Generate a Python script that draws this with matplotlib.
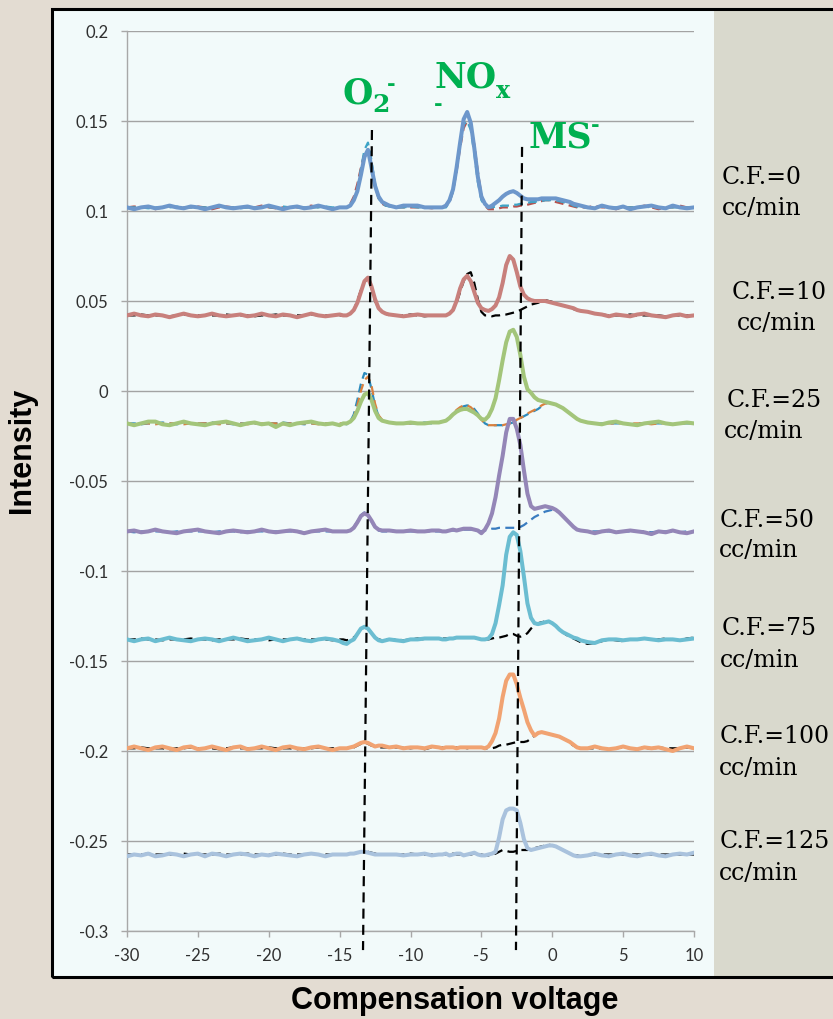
import numpy as np
import matplotlib.pyplot as plt
from matplotlib.patches import Rectangle

# compensation voltage sweep (finer steps around the peaks)
cv = np.r_[np.arange(-30, -14.9, 0.5), np.arange(-14.75, -11.7, 0.25),
           np.arange(-11.5, -7.9, 0.5), np.arange(-7.75, 2.01, 0.25),
           np.arange(2.5, 10.01, 0.5)]

# intensities, x 1e-3
cf0_solid = [102, 101, 102, 102.5, 101.5, 102, 103, 102, 101.5, 102.5, 102, 101, 102, 103, 102, 101.5, 102, 102.5, 101.5, 102, 103, 102, 101, 102, 102.5, 101.5, 102, 103, 102, 101, 102,
             102, 102, 103, 106, 111, 120, 130, 134, 124, 114, 108, 105, 104,
             103, 102, 103, 103, 103, 102, 102, 102,
             102, 103, 106, 112, 124, 138, 151, 155, 149, 135, 119, 108, 104, 102, 103, 104.5, 106, 108, 109.5, 110.5, 111, 110, 108.5, 107, 106.5, 106.5, 106.5, 106.5, 107, 107, 107, 107, 107, 106.5, 106, 105.5, 105, 104, 103.5, 103,
             102, 101.5, 103, 102, 101.5, 102.5, 101, 102, 102.5, 103, 102, 101.5, 103, 102, 101.5, 102]
cf0_red = [102, 102.5, 102, 102, 101, 102, 102.5, 102, 102, 102, 102.5, 102, 101, 102, 102.5, 102, 102, 102, 102, 103, 102, 101.5, 102, 102, 102, 102, 103, 102, 102, 101.5, 102,
           102, 102, 104, 108, 115, 124, 132, 134, 126, 114, 107, 104, 103,
           103, 102, 102, 102, 102, 102, 101.5, 102,
           102, 103, 105, 111, 122, 135, 146, 150, 147, 137, 122, 109, 103, 101, 101, 101, 101.5, 102, 102, 102, 102.5, 102.5, 103, 103, 103.5, 104, 104.5, 105, 105.5, 106, 106, 105.5, 105, 104.5, 104, 103.5, 103, 102.5, 102, 102,
           102, 103, 102, 102, 101, 102, 102, 102, 103, 102, 101, 102, 102, 103, 102, 102]
cf0_teal = [102, 102, 102, 101.5, 102, 102, 102, 102.5, 102, 102, 102, 102, 102, 102.5, 102, 102, 101.5, 102, 102, 102, 102, 102, 102.5, 102, 102, 102, 102, 102, 102.5, 102, 102,
            102, 102, 103, 106, 112, 123, 134, 138, 128, 115, 107, 104, 103,
            102.5, 102, 102, 102.5, 102, 102, 102, 102,
            102, 102, 105, 111, 123, 137, 148, 150, 145, 132, 116, 106, 103, 102, 102, 102.5, 102.5, 103, 103, 103, 103.5, 103.5, 104, 104, 104.5, 105, 105, 105.5, 105.5, 106, 106, 106, 106, 105.5, 105, 104.5, 104, 103, 102.5, 102,
            102, 102, 102.5, 102, 102, 102, 102, 102, 102.5, 102, 102, 102, 102, 102, 102, 102]

cf10_solid = [42, 43, 42, 41.5, 42.5, 42, 41, 42, 43, 42, 41.5, 42, 43, 42, 41.5, 42, 42.5, 41.5, 42, 43, 42, 41.5, 42.5, 42, 41, 42, 43, 42, 41.5, 42, 42.5,
              42, 42, 43, 45, 49, 55, 61, 63, 58, 51, 46, 44, 43,
              42.5, 42, 41.5, 42, 42.5, 42, 42, 42,
              42, 42, 43, 45, 50, 57, 62, 64, 61, 55, 49, 46, 45, 44.5, 45.5, 47.5, 52, 60, 70, 75, 73, 66, 58, 53.5, 51.5, 50.5, 50, 50, 50, 50, 49.5, 49, 48.5, 48, 47.5, 47, 46.5, 46, 45, 44.5,
              44, 43, 42.5, 41.5, 42.5, 42, 41.5, 42.5, 43, 42, 41.5, 41, 42, 42.5, 41.5, 42]
cf10_ref = [42, 42, 42.5, 42, 42, 42, 41.5, 42, 42.5, 42, 42, 42, 42, 42, 42.5, 42, 42, 42, 41.5, 42, 42, 42.5, 42, 42, 42, 42, 42.5, 42, 42, 42, 42,
            42, 42, 43, 45, 50, 56, 61, 62, 57, 50, 46, 44, 43,
            42, 42, 42, 42.5, 42, 41.5, 42, 42,
            42, 42, 43, 45, 49, 55, 61, 65, 66, 60, 51, 44, 42, 42, 41.5, 42, 42, 42.5, 42.5, 43, 43.5, 44, 45, 46, 47, 48, 48.5, 49, 50, 50.5, 50, 49.5, 48.5, 48, 47.5, 47, 46, 45.5, 45, 44.5,
            44, 43, 42.5, 42, 42, 42, 42.5, 42, 42, 42, 42, 41.5, 42, 42, 42, 42]

cf25_solid = [-18, -19, -18, -17, -17, -18.5, -19, -18, -17, -18, -18.5, -19, -18, -17.5, -17, -18, -19, -18, -17.5, -18.5, -18, -20, -18, -19, -18, -17.5, -17, -18, -18.5, -18, -19,
              -18, -18, -17, -15, -11, -6, -2, -1, -5, -11, -15, -16.5, -17,
              -17.5, -18, -18, -17.5, -18, -18, -17.5, -17.5,
              -17, -16.5, -15, -13, -11.5, -10.5, -10, -10, -11, -12, -13.5, -15.5, -16, -14, -10, -4, 6, 17, 27, 33, 34, 30, 20, 8, 1, -1, -3.5, -5, -5.5, -6, -6.5, -7, -7.5, -8.5, -9.5, -11, -12.5, -14, -15.5, -16.5,
              -17.5, -18, -18.5, -17.5, -17, -18, -18.5, -19, -18, -17.5, -17, -18, -18.5, -18, -17.5, -18]
cf25_teal = [-18, -18, -18.5, -18, -18, -17.5, -18, -18.5, -18, -18, -18, -18, -17.5, -18, -18, -18.5, -18, -18, -18, -18.5, -18, -18, -17.5, -18, -18, -18.5, -18, -18, -18, -18, -18.5,
             -18, -18.5, -17, -13, -5, 4, 10, 9, 1, -8, -14, -16.5, -17,
             -17.5, -18, -18, -18, -18, -17.5, -18, -17.5,
             -17, -16.5, -15, -13, -11, -9.5, -8.5, -8, -8.5, -10, -12.5, -15.5, -18, -19, -19, -19, -19, -19, -18.5, -18, -17.5, -16.5, -15, -14, -13, -12, -11, -10, -8.5, -7, -6.5, -7, -7.5, -8.5, -9.5, -11, -12.5, -14, -15.5, -16.5,
             -17.5, -18, -18, -18, -18, -18, -18.5, -18, -18, -18, -18, -18, -18.5, -18, -18, -18]
cf25_orange = [-18, -18.5, -18, -18, -18.5, -18, -18, -18, -18.5, -18, -18, -18, -18, -18.5, -18, -18, -18, -18.5, -18, -18, -18, -18, -18.5, -18, -18, -18, -18, -18.5, -18, -18, -18,
               -18, -18, -17.5, -14.5, -8, 0, 6, 8, 3, -7, -13.5, -16, -17,
               -17.5, -18, -18, -18, -18, -18, -17.5, -17.5,
               -17, -16.5, -15, -12.5, -10.5, -9, -8, -8, -9, -11, -13.5, -16, -18, -19, -19, -19, -19, -19, -18.5, -18, -17, -16, -15, -14, -12.5, -11.5, -10.5, -9.5, -8, -7, -6.5, -7, -7.5, -8.5, -9.5, -11, -12.5, -14, -15.5, -16.5,
               -17.5, -18, -18, -18, -18, -18, -18, -18, -18, -18.5, -18, -18, -18, -18, -18, -18]

cf50_solid = [-78, -77.5, -78.5, -78, -77, -78, -78.5, -79, -78, -77.5, -77, -78, -78.5, -79, -78, -77.5, -78, -78.5, -78, -77, -78, -78.5, -78, -77.5, -78, -79, -78, -77.5, -77, -78, -78,
              -78, -78, -77.5, -76, -73, -69.5, -68, -69, -72, -75.5, -77, -77.5, -77.5,
              -77.5, -78, -78, -77.5, -78, -78, -77.5, -77.5,
              -78, -78, -77.5, -77, -77.5, -77, -76.5, -76.5, -76.5, -77, -77.5, -79, -77, -73.5, -68, -59, -47, -36, -23, -15.5, -15.5, -21, -30, -44, -57, -64, -65.5, -65, -64.5, -64, -64.5, -65, -66, -67.5, -69.5, -71.5, -73.5, -75.5, -77, -77.5,
              -78, -79, -78, -77.5, -78.5, -78, -77.5, -78, -78.5, -79.5, -78, -78.5, -77.5, -78.5, -79, -78]
cf50_ref = [-78, -78.5, -78, -78, -78, -78, -78.5, -78, -78, -78, -78, -78, -78.5, -78, -78, -78, -78.5, -78, -78, -78, -78, -78, -78, -78, -78, -78.5, -78, -78, -78, -78, -78,
            -78, -78, -77.5, -75.5, -72.5, -69, -67.5, -69, -72.5, -76, -77.5, -78, -78,
            -78, -78, -78, -78, -78, -78, -78, -78,
            -78, -78, -77.5, -77.5, -77.5, -77, -77, -77, -77, -77, -77.5, -78, -77.5, -77, -76.5, -76.5, -76, -76, -76, -76, -76, -76, -75.5, -74.5, -73, -71.5, -70, -69, -68, -67, -66.5, -66, -66.5, -67.5, -69.5, -71.5, -73.5, -75.5, -77, -77.5,
            -78, -78, -78, -78, -78.5, -78, -78, -78, -78, -78.5, -78, -78, -78, -78.5, -78, -78]

cf75_solid = [-138, -139, -138, -137.5, -139, -138, -137, -138, -138.5, -139, -138, -137.5, -138, -139, -138, -137, -138, -139, -138.5, -138, -137, -138, -139, -138, -137.5, -138.5, -139, -138, -137.5, -138, -139,
              -140, -140.5, -139, -138, -135, -132, -131, -132, -134.5, -137, -138.5, -139, -138.5,
              -138, -138.5, -139, -138, -138, -137.5, -137.5, -137.5,
              -138, -138, -137.5, -137.5, -137, -137, -137, -137, -137, -137, -137.5, -138, -138, -137.5, -135, -129, -119, -108, -91, -81, -78.5, -80, -89, -103, -118, -126, -129, -129.5, -129, -128.5, -128, -129, -130.5, -132.5, -134, -135, -136, -137, -137.5, -138.5,
              -139.5, -140, -138.5, -138, -138, -138.5, -138, -138, -137.5, -138, -138.5, -138, -138, -138.5, -138, -137.5]
cf75_ref = [-138, -138, -137.5, -138, -138, -138.5, -138, -138, -138, -137.5, -138, -138, -138.5, -138, -138, -138, -137.5, -138, -138, -138, -138.5, -138, -138, -138, -137.5, -138, -138, -138, -138, -138.5, -138,
            -138, -138.5, -138, -137, -135, -132.5, -131.5, -132, -134.5, -137, -138, -138.5, -138,
            -138, -138, -138.5, -138, -137.5, -138, -137.5, -137.5,
            -137.5, -137.5, -137.5, -137.5, -137, -137, -137, -137, -137, -137, -137.5, -138, -138, -138, -137.5, -137, -137, -136.5, -136, -135, -135, -136, -136.5, -136, -134.5, -132, -130, -129, -128.5, -128, -128, -129, -130.5, -132.5, -134, -135.5, -136.5, -137.5, -138.5, -139.5,
            -140.5, -140, -139, -138, -138.5, -139, -138, -138, -137.5, -138, -138, -137.5, -138, -138.5, -137.5, -137]

cf100_solid = [-198.5, -197.5, -198.5, -199.5, -198, -197.5, -198.5, -199.5, -198, -197.5, -199, -198.5, -197.5, -198.5, -199.5, -198, -197.5, -199, -198.5, -197.5, -198.5, -199.5, -198, -197.5, -198.5, -199, -198, -197.5, -198.5, -199.5, -198.5,
               -198.5, -198.5, -198, -197.5, -196.5, -195.5, -195, -195.5, -196.5, -197.5, -197, -197, -197.5,
               -198, -197.5, -198.5, -198, -198, -198.5, -197.5, -198,
               -198.5, -198, -198, -198, -198.5, -198, -198, -198, -198, -198, -198, -198, -198.5, -197.5, -194.5, -190, -182, -170, -161, -157.5, -157.5, -163, -170.5, -177, -184, -188.5, -191.5, -190, -189.5, -190, -190.5, -191, -191.5, -192, -193, -194, -195, -196.5, -198, -198.5,
               -198.5, -197.5, -198.5, -199, -198.5, -197.5, -198.5, -199, -198, -198.5, -198, -199, -200, -198.5, -197.5, -198.5]
cf100_ref = [-198.5, -198.5, -198, -198.5, -198.5, -198.5, -199, -198.5, -198.5, -198, -198.5, -198.5, -198.5, -199, -198.5, -198, -198.5, -198.5, -198.5, -198.5, -198, -198.5, -198.5, -198.5, -199, -198.5, -198.5, -198, -198.5, -198.5, -198.5,
             -198.5, -198.5, -198.5, -198, -197, -196, -195.5, -196, -197, -197.5, -198, -198, -198,
             -198, -198, -198, -198.5, -198, -199, -198, -198,
             -198, -198.5, -198, -198, -198, -198, -198, -198.5, -198, -198, -198, -198, -198.5, -198.5, -198.5, -198, -197, -196.5, -196.5, -196, -195.5, -195, -195, -195, -194.5, -193, -191.5, -190, -189.5, -190, -190.5, -191, -191.5, -192, -193, -194, -195.5, -197, -198, -198.5,
             -198.5, -198.5, -198.5, -199, -198.5, -198, -198.5, -198.5, -198, -199, -198, -198.5, -198.5, -198.5, -198, -198.5]

cf125_solid = [-258.5, -257.5, -258, -257, -258.5, -258, -257, -257.5, -258.5, -257.5, -257, -258.5, -257, -257.5, -258.5, -257.5, -257, -257.5, -258.5, -257.5, -258, -257, -257.5, -258, -258.5, -257.5, -257, -257.5, -258.5, -257.5, -257.5,
               -257.5, -257.5, -257, -257, -256.5, -256, -256, -256.5, -257, -257.5, -257.5, -257.5, -257.5,
               -257.5, -257.5, -258, -257.5, -257.5, -257, -258, -257.5,
               -257.5, -257, -258, -257.5, -257, -257, -258, -257.5, -257, -256.5, -257.5, -258, -258, -257.5, -257, -256, -248, -238, -233, -232, -232, -233, -240, -249, -254, -255, -254.5, -254, -253.5, -253, -252.5, -252.5, -253, -254, -255, -256, -257, -258, -258.5, -258.5,
               -258, -257, -258, -258.5, -257.5, -257, -258, -258.5, -257.5, -257, -258, -258.5, -257.5, -257, -257.5, -256.5]
cf125_ref = [-257.5, -257.5, -257.5, -257, -257.5, -257.5, -257.5, -257.5, -257, -257.5, -257.5, -257.5, -257.5, -257, -257.5, -257.5, -257.5, -257, -257.5, -257.5, -257.5, -257.5, -257, -257.5, -257.5, -257.5, -257, -257.5, -257.5, -257.5, -257.5,
             -257.5, -257.5, -257, -257, -256.5, -256, -255.5, -256, -256.5, -257, -257.5, -257.5, -257.5,
             -257.5, -257.5, -257.5, -257, -257.5, -257.5, -257.5, -257.5,
             -257.5, -257.5, -257.5, -257, -257.5, -257.5, -257.5, -257.5, -257.5, -257, -257.5, -257.5, -258, -258, -257.5, -257, -256, -255, -255.5, -256, -256, -255.5, -255, -255, -255, -254.5, -254, -253.5, -253, -252.5, -252, -252.5, -253, -254, -255, -256, -257, -257.5, -258, -258.5,
             -258, -257.5, -257.5, -257.5, -257.5, -257.5, -257.5, -257.5, -257.5, -257.5, -257.5, -257.5, -257.5, -257.5, -257.5, -257.5]

flow_labels = ['C.F.=0', 'C.F.=10', 'C.F.=25', 'C.F.=50', 'C.F.=75', 'C.F.=100', 'C.F.=125']
ytick_vals = [0.2, 0.15, 0.1, 0.05, 0, -0.05, -0.1, -0.15, -0.2, -0.25, -0.3]
ytick_labels = ['0.2', '0.15', '0.1', '0.05', '0', '-0.05', '-0.1', '-0.15', '-0.2', '-0.25', '-0.3']
xtick_vals = [-30, -25, -20, -15, -10, -5, 0, 5, 10]

# peak guide lines (top, bottom) in data units
o2_guide = ([-12.72, -13.35], [0.145, -0.3106])
ms_guide = ([-2.13, -2.56], [0.1356, -0.3106])

groups = [
    (cf0_solid, '#6d97cb', [(cf0_red, '#b5524f'), (cf0_teal, '#3ea4c6')]),
    (cf10_solid, '#c8807c', [(cf10_ref, 'black')]),
    (cf25_solid, '#a3c57a', [(cf25_teal, '#2c8bbd'), (cf25_orange, '#d9803e')]),
    (cf50_solid, '#9486b7', [(cf50_ref, '#3a7cc0')]),
    (cf75_solid, '#6bbdd1', [(cf75_ref, 'black')]),
    (cf100_solid, '#f1a372', [(cf100_ref, 'black')]),
    (cf125_solid, '#a9c2dd', [(cf125_ref, 'black')]),
]

W, H = 833, 1019


def fx(px):
    return px / W


def fy(py):
    return 1 - py / H


fig = plt.figure(figsize=(W / 100, H / 100), dpi=100, facecolor='#e3dcd2')

# panels and frame
fig.patches.append(Rectangle((fx(52), fy(977)), fx(714) - fx(52), fy(9) - fy(977),
                             transform=fig.transFigure, facecolor='#f2fafa', edgecolor='none', zorder=0))
fig.patches.append(Rectangle((fx(714), fy(977)), fx(840) - fx(714), fy(9) - fy(977),
                             transform=fig.transFigure, facecolor='#d9d9cd', edgecolor='none', zorder=0))
fig.patches.append(Rectangle((fx(52), fy(977)), fx(900) - fx(52), fy(9) - fy(977),
                             transform=fig.transFigure, facecolor='none', edgecolor='black', lw=2.2, zorder=1))

ax = fig.add_axes([fx(127), fy(931), fx(694) - fx(127), fy(31) - fy(931)])
ax.set_facecolor('none')
ax.set_zorder(3)

for solid, color, refs in groups:
    for ref, rcolor in refs:
        ax.plot(cv, np.array(ref) / 1000, color=rcolor, lw=1.6, ls=(0, (4, 2.4)), zorder=2)
    ax.plot(cv, np.array(solid) / 1000, color=color, lw=2.9, solid_joinstyle='round', zorder=3)

for gx, gy in (o2_guide, ms_guide):
    ax.plot(gx, gy, color='black', lw=1.6, ls=(0, (4.5, 2.8)), clip_on=False, zorder=5)

ax.set_xlim(-30, 10)
ax.set_ylim(-0.3, 0.2)
ax.set_yticks(ytick_vals)
ax.set_yticklabels(ytick_labels)
ax.set_xticks(xtick_vals)
ax.set_xticklabels([str(v) for v in xtick_vals])
ax.grid(axis='y', color='#a3a3a3', lw=1.0)
ax.set_axisbelow(True)
for side in ('top', 'right'):
    ax.spines[side].set_visible(False)
for side in ('left', 'bottom'):
    ax.spines[side].set_color('#a8a8a8')
    ax.spines[side].set_linewidth(1.0)
ax.tick_params(axis='both', color='#a8a8a8', length=4.5, width=1.0,
               labelsize=12, labelcolor='#303030')
ax.tick_params(axis='y', pad=9)
ax.tick_params(axis='x', pad=8)
for lab in ax.get_xticklabels() + ax.get_yticklabels():
    lab.set_family('Lato')

fig.text(fx(22), fy(450), 'Intensity', rotation=90, ha='center', va='center',
         fontsize=22, fontweight='bold', family='Liberation Sans')
fig.text(fx(455), fy(1001), 'Compensation voltage', ha='center', va='center',
         fontsize=22, fontweight='bold', family='Liberation Sans')

# ion labels
green = '#00b050'
serif_bold = dict(color=green, family='DejaVu Serif', fontweight='bold', va='baseline', ha='left')
fig.text(fx(343), fy(103), 'O', fontsize=25, **serif_bold)
fig.text(fx(372), fy(112), '2', fontsize=18, **serif_bold)
fig.text(fx(387), fy(90), '-', fontsize=15, **serif_bold)
fig.text(fx(435), fy(88), 'NO', fontsize=25, **serif_bold)
fig.text(fx(496), fy(98), 'x', fontsize=17, **serif_bold)
fig.text(fx(434), fy(110), '-', fontsize=15, **serif_bold)
fig.text(fx(528), fy(148), 'MS', fontsize=25, **serif_bold)
fig.text(fx(591), fy(131), '-', fontsize=15, **serif_bold)

# flow labels on the right panel
label_pos = [(722, 184, 722, 215), (732, 299, 737, 330), (727, 407, 724, 438),
             (720, 527, 719, 557), (722, 635, 720, 667), (720, 743, 719, 775),
             (720, 848, 719, 880)]
for text, (x1, y1, x2, y2) in zip(flow_labels, label_pos):
    fig.text(fx(x1), fy(y1), text, fontsize=17, family='DejaVu Serif', va='baseline')
    fig.text(fx(x2), fy(y2), 'cc/min', fontsize=17, family='DejaVu Serif', va='baseline')

fig.savefig('out.png', dpi=100, facecolor=fig.get_facecolor())
